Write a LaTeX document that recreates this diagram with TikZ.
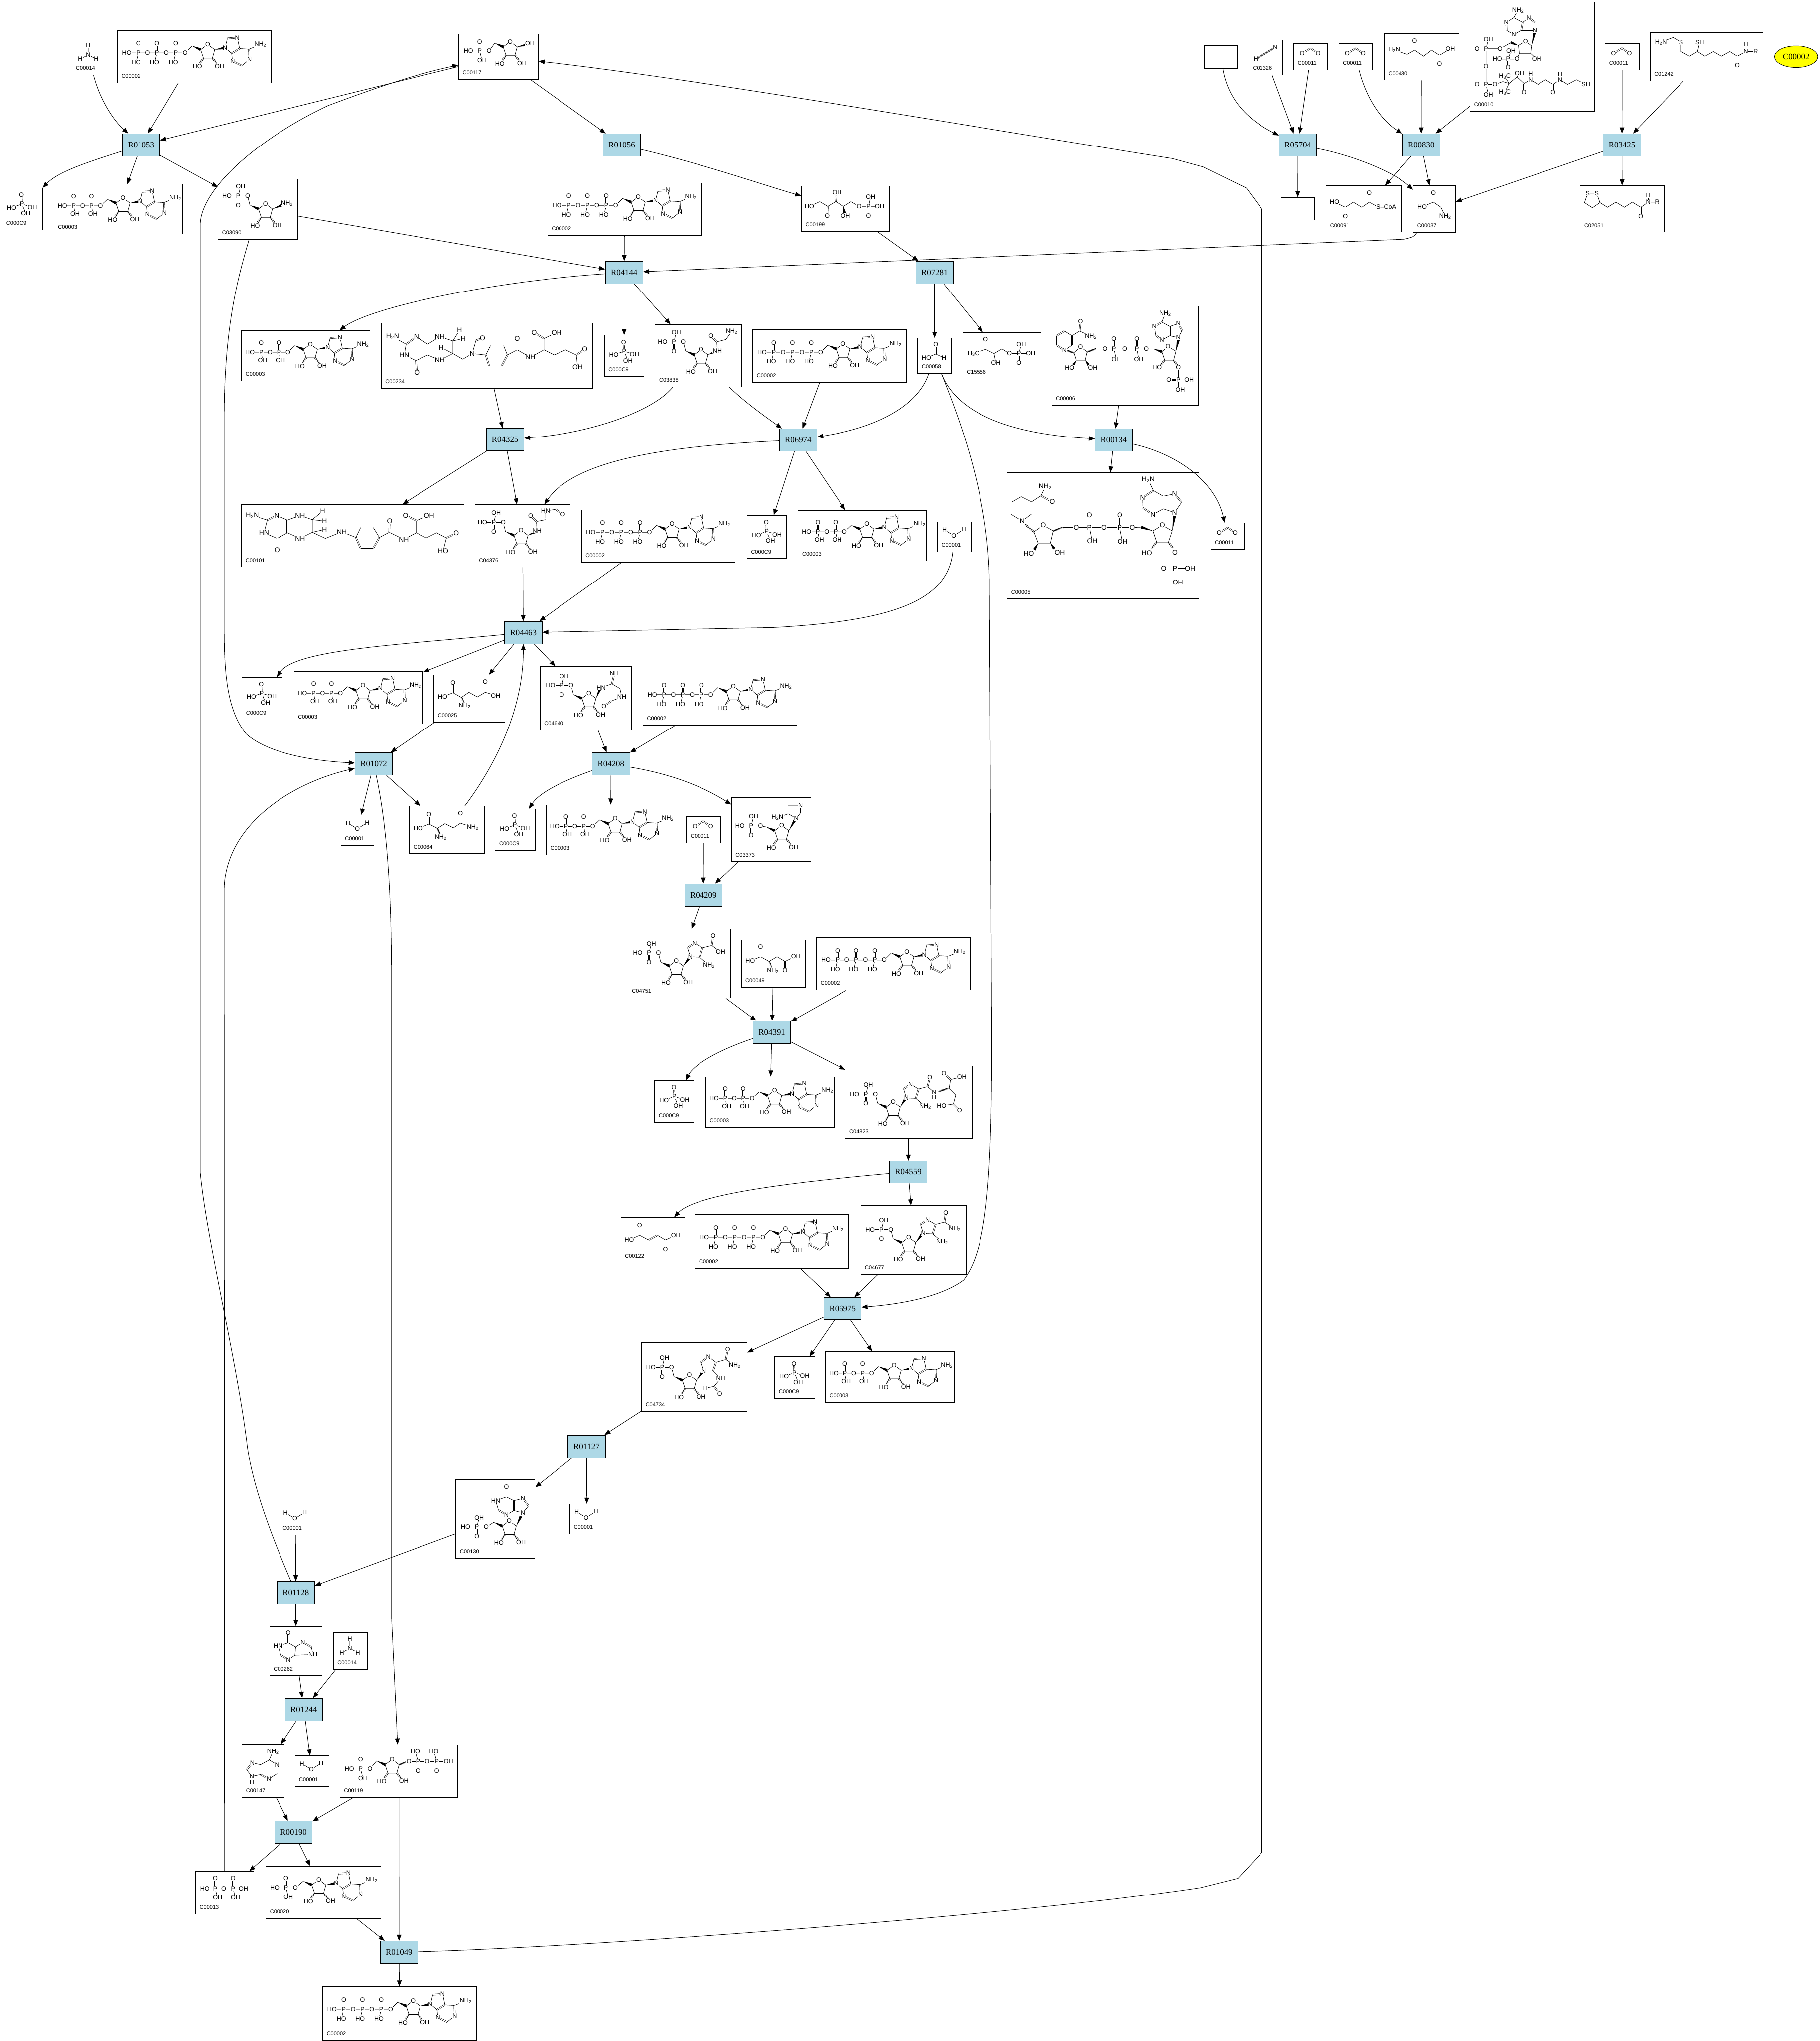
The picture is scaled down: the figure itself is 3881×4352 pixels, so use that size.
\documentclass[tikz,border=0pt]{standalone}
\usepackage{fontspec}
\usepackage{xcolor}
\usepackage{tikz}
\usetikzlibrary{arrows.meta,fit,calc,shapes.geometric}
\setmainfont{Liberation Sans}
\newfontfamily\rfont{Liberation Serif}
\definecolor{ReactBlue}{HTML}{ADD8E6}
\definecolor{PoolYellow}{HTML}{FFFF00}
\newcommand{\atomfont}{\fontsize{11.4}{12}\selectfont}
\newcommand{\atombig}{\fontsize{12.6}{13}\selectfont}
\newcommand{\nhtwo}{NH\textsubscript{2}}
\newcommand{\htwon}{H\textsubscript{2}N}
\newcommand{\hthreec}{H\textsubscript{3}C}
\newcommand{\atm}[2]{\node[atom] at (#1) {#2};}
\newcommand{\wdg}[2]{\fill (#1) -- ($(#2)!2.6pt!90:(#1)$) -- ($(#2)!2.6pt!-90:(#1)$) -- cycle;}

% sugar ring, origin at the CH2 carbon
\newcommand{\ribose}[2]{\begin{scope}[shift={(#1,#2)}]
  \wdg{0,0}{18,8}
  \draw (18,8)--(33,-3)--(48,8)--(43,26)--(24,26)--cycle;
  \draw[hash] (24,26)--(16,37); \draw[hash] (43,26)--(52,37);
  \atm{33,-3}{O}\atm{11,44}{HO}\atm{58,43}{OH}
\end{scope}}
% phosphates, origin at the ester oxygen
\newcommand{\phosgrp}[2]{\begin{scope}[shift={(#1,#2)}]
  \draw (0,0)--(-44,0); \draw (-20,0)--(-15,-20); \draw[dbl] (-20,0)--(-20,20);
  \atm{0,0}{O}\atm{-20,0}{P}\atm{-15,-20}{OH}\atm{-44,0}{HO}\atm{-20,20}{O}
\end{scope}}
\newcommand{\phosinv}[2]{\begin{scope}[shift={(#1,#2)}]
  \draw (0,0)--(-44,0); \draw (-20,0)--(-15,20); \draw[dbl] (-20,0)--(-20,-20);
  \atm{0,0}{O}\atm{-20,0}{P}\atm{-15,20}{OH}\atm{-44,0}{HO}\atm{-20,-20}{O}
\end{scope}}
\newcommand{\fivep}[2]{\begin{scope}[shift={(#1,#2)}]
  \draw (-5,-19.5)--(0,0);
  \ribose{0}{0}\phosgrp{-5}{-19.5}
\end{scope}}
% adenosine, origin at the CH2 carbon
\newcommand{\adeno}[2]{\ribose{#1}{#2}\begin{scope}[shift={(#1,#2)}]
  \wdg{48,8}{70,4}
  \draw (70,4)--(75,-16); \draw[dbl] (75,-16)--(96,-17.5); \draw (96,-17.5)--(101,5.6);
  \draw[dbl] (101,5.6)--(84,16); \draw (84,16)--(70,4); \draw (101,5.6)--(121,7)--(145,-3);
  \draw[dbl] (121,7)--(122,29); \draw (122,29)--(105.6,42); \draw[dbl] (105.6,42)--(86,32.5); \draw (86,32.5)--(84,16);
  \atm{70,4}{N}\atm{96,-17.5}{N}\atm{145,-3}{\nhtwo}\atm{122,29}{N}\atm{86,32.5}{N}
\end{scope}}

\newcommand{\molATP}{
  \draw (20,48)--(145,48)--(160,33);
  \foreach \px in {45,85,125}{\draw[dbl] (\px,48)--(\px,28); \draw (\px,48)--(\px-5,68);}
  \atm{20,48}{HO}
  \foreach \px in {45,85,125}{\atm{\px,28}{O}\atm{\px,48}{P}\atm{\px-5,68}{HO}\atm{\px+20,48}{O}}
  \adeno{160}{33}}
\newcommand{\molADP}{
  \draw (18,46)--(99,46)--(114,32);
  \foreach \px in {42,80}{\draw[dbl] (\px,46)--(\px,26); \draw (\px,46)--(\px+3,63);}
  \atm{18,46}{HO}
  \foreach \px in {42,80}{\atm{\px,26}{O}\atm{\px,46}{P}\atm{\px+3,63}{OH}\atm{\px+19,46}{O}}
  \adeno{114}{32}}
\newcommand{\molAMP}{\draw (63,46)--(80,32); \phosinv{63}{46}\adeno{80}{32}}
\newcommand{\molPi}{
  \draw[dbl] (42,34)--(41,15); \draw (20,42)--(42,34)--(64,41); \draw (42,34)--(50,54);
  \atm{41,15}{O}\atm{42,34}{P}\atm{20,42}{HO}\atm{64,41}{OH}\atm{50,54}{OH}}
\newcommand{\molNH}{
  \draw (35,14)--(35,34)--(18,43); \draw (35,34)--(52,43);
  \atm{35,14}{H}\atm{35,34}{N}\atm{18,43}{H}\atm{52,43}{H}}
\newcommand{\molWater}{\draw (15,17)--(35,29)--(56,16); \atm{15,17}{H}\atm{35,29}{O}\atm{56,16}{H}}
\newcommand{\molCOtwo}{\draw[dbl] (18,21)--(36,10); \draw[dbl] (36,10)--(52,21); \atm{18,21}{O}\atm{52,21}{O}}
\newcommand{\molHCN}{\draw[dbl] (15,41)--(57,16); \draw[line width=.4pt] (20,38)--(52,19); \atm{15,41}{H}\atm{57,16}{N}}
\newcommand{\molRfive}{
  \draw (65,36)--(77,19); \ribose{77}{19}\phosinv{65}{36}
  \wdg{125,27}{147,22}\atm{152,20}{OH}}
\newcommand{\molPRA}{\fivep{68}{55.5}\wdg{116,63.5}{140,54}\atm{147,52}{\nhtwo}}
\newcommand{\molGAR}{\fivep{65}{56.5}
  \wdg{113,64.5}{130,57}
  \draw (133,56)--(131.6,37)--(151,32)--(163.4,15); \draw[dbl] (131.6,37)--(119.4,24);
  \atm{133,56}{NH}\atm{119.4,24}{O}\atm{163.4,15}{\nhtwo}}
\newcommand{\molFGAR}{\fivep{65}{57.5}
  \wdg{113,65.5}{128,58}
  \draw (132,56)--(131,36)--(151,32)--(150.4,13.4)--(172,10); \draw[dbl] (131,36)--(118.6,24); \draw[dbl] (172,10)--(187,21);
  \atm{132,56}{NH}\atm{118.6,24}{O}\atm{150.4,13.4}{HN}\atm{187,21}{O}}
\newcommand{\molFGAM}{\fivep{71}{60}
  \wdg{119,68}{128,47}
  \draw (130,45)--(153,37)--(170,47)--(174,65)--(151,74); \draw[dbl] (153,37)--(158,15); \draw[dbl] (151,74)--(136,85);
  \atm{130,45}{HN}\atm{158,15}{NH}\atm{174,65}{NH}\atm{136,85}{O}}
\newcommand{\molAIR}{
  \draw (62,60)--(74,62); \ribose{74}{62}\phosgrp{62}{60}
  \wdg{122,70}{136,46}
  \draw (138,44)--(121,34); \draw[dbl] (121,34)--(121,17); \draw (121,17)--(147,17)--(147,32)--(138,44); \draw (121,34)--(98,42);
  \atm{98,42}{\htwon}\atm{147,16}{N}\atm{138,44}{N}}
\newcommand{\imidring}{
  \draw (133,59)--(127,40); \draw[dbl] (127,40)--(142,30); \draw (142,30)--(159,40); \draw[dbl] (159,40)--(153,60); \draw (153,60)--(133,59);
  \draw (153,60)--(173,77);}
\newcommand{\molCAIR}{\fivep{70}{70.5}
  \wdg{118,78.5}{131,61} \imidring
  \draw (159,40)--(179,35)--(198,49); \draw[dbl] (179,35)--(182,15);
  \atm{133,59}{N}\atm{142,30}{N}\atm{173,77}{\nhtwo}\atm{182,15}{O}\atm{198,49}{OH}}
\newcommand{\molSAICAR}{\fivep{69}{79.5}
  \begin{scope}[shift={(-3,9)}]\wdg{120,78}{131,61} \imidring\end{scope}
  \draw (156,49)--(175,44)--(189,56); \draw[dbl] (175,44)--(180,24);
  \draw[hash] (197,54)--(221,48);
  \draw (221,48)--(224,29)--(248,23); \draw[dbl] (224,29)--(210,16);
  \draw (221,48)--(235,62)--(230,81)--(205,85); \draw[dbl] (230,81)--(243,94);
  \atm{130,68}{N}\atm{139,39}{N}\atm{170,86}{\nhtwo}\atm{180,24}{O}\atm{189,56}{N}\atm{189,67}{H}
  \atm{210,16}{O}\atm{248,23}{OH}\atm{205,85}{HO}\atm{243,94}{O}}
\newcommand{\molAICAR}{\fivep{69}{70.5}
  \wdg{117,78.5}{130,61} \imidring
  \draw (159,40)--(178,35)--(200,49); \draw[dbl] (178,35)--(181,15);
  \atm{133,59}{N}\atm{142,30}{N}\atm{173,77}{\nhtwo}\atm{181,15}{O}\atm{200,49}{\nhtwo}}
\newcommand{\molFAICAR}{\fivep{69}{72}
  \wdg{117,80}{131,62}
  \draw (133,60)--(127,42); \draw[dbl] (127,42)--(143,30); \draw (143,30)--(159,42); \draw[dbl] (159,42)--(153,60); \draw (153,60)--(133,60);
  \draw (153,60)--(169,76)--(155,93)--(137,97); \draw[dbl] (155,93)--(167,109);
  \draw (159,42)--(180,36)--(199,48); \draw[dbl] (180,36)--(184,14);
  \atm{133,60}{N}\atm{143,30}{N}\atm{169,76}{NH}\atm{137,97}{H}\atm{167,109}{O}\atm{184,14}{O}\atm{199,48}{\nhtwo}}
\newcommand{\molIMP}{
  \draw (65,101)--(81,91); \ribose{81}{91}\phosgrp{65}{101}
  \wdg{129,99}{139,78}
  \draw (143,71)--(155,56); \draw[dbl] (155,56)--(143,40); \draw (143,40)--(124,45); \draw[dbl] (124,45)--(124,66); \draw (124,66)--(143,71);
  \draw (124,66)--(108,75); \draw[dbl] (108,75)--(91,65); \draw (91,65)--(85,45)--(108,37)--(124,45); \draw[dbl] (108,37)--(108,16);
  \atm{143,71}{N}\atm{143,40}{N}\atm{108,75}{N}\atm{85,45}{HN}\atm{108,16}{O}}
\newcommand{\molHX}{
  \draw (18,42)--(40,35)--(55.5,44)--(71,34); \draw[dbl] (40,35)--(40,14);
  \draw (18,42)--(24,61.5); \draw[dbl] (24,61.5)--(40,71); \draw (40,71)--(54,61.5)--(92.5,60)--(89,44);
  \draw (55.5,44)--(54,61.5); \draw[dbl] (71,34)--(89,44);
  \atm{40,14}{O}\atm{18,42}{HN}\atm{40,71}{N}\atm{71,34}{N}\atm{92.5,60}{NH}}
\newcommand{\molAde}{
  \draw (66,16)--(58,34); \draw (58,34)--(75,44); \draw[dbl] (75,44)--(75,63); \draw (75,63)--(57,74.5);
  \draw[dbl] (57,74.5)--(39.5,65); \draw[dbl] (39.5,65)--(39.5,44); \draw (39.5,44)--(58,34); \draw (39.5,44)--(22,40);
  \draw[dbl] (22,40)--(10,55); \draw (10,55)--(21,69)--(39.5,65); \draw (21,69)--(21,82);
  \atm{66,16}{\nhtwo}\atm{75,44}{N}\atm{57,74.5}{N}\atm{22,40}{N}\atm{21,69}{N}\atm{21,82}{H}}
\newcommand{\molPRPP}{
  \draw (64,52)--(78,35); \ribose{78}{35}\phosinv{64}{52}
  \draw[hash] (126,43)--(140,38);
  \draw (147,36)--(231.5,36);
  \foreach \px in {166.5,206.5}{\draw[dbl] (\px,36)--(\px,56); \draw (\px,36)--(\px-6,15);}
  \atm{147,36}{O}\atm{186,36}{O}\atm{231.5,36}{OH}
  \foreach \px in {166.5,206.5}{\atm{\px,36}{P}\atm{\px,56}{O}\atm{\px-6,15}{HO}}}
\newcommand{\molPPi}{
  \draw (20,37)--(102,37);
  \foreach \px in {42,80}{\draw[dbl] (\px,37)--(\px,15); \draw (\px,37)--(\px+5,56);}
  \atm{20,37}{HO}\atm{60,37}{O}\atm{102,37}{OH}
  \foreach \px in {42,80}{\atm{\px,15}{O}\atm{\px,37}{P}\atm{\px+5,56}{OH}}}
\newcommand{\molRu}{
  \draw (17,43)--(39,33)--(56,43)--(73,33)--(90,43)--(106,33)--(123.5,43)--(167,43);
  \draw[dbl] (56,43)--(55,63); \draw[hash] (73,33)--(75,18); \wdg{90,43}{93,58};
  \draw (143.5,43)--(148,23); \draw[dbl] (143.5,43)--(143.5,63);
  \atm{17,43}{HO}\atm{55,63}{O}\atm{76,13}{OH}\atm{94,63}{OH}\atm{123.5,43}{O}\atm{143.5,43}{P}\atm{148,23}{OH}\atm{167,43}{OH}\atm{143.5,63}{O}}
\newcommand{\molFormate}{
  \draw[dbl] (38.6,13)--(38.6,34); \draw (18.6,42)--(38.6,34)--(56,42);
  \atm{38.6,13}{O}\atm{18.6,42}{HO}\atm{56,42}{H}}
\newcommand{\molDBP}{
  \draw (23,45)--(49,36)--(67,45)--(84,35)--(100,45)--(145,45);
  \draw[dbl] (49,36)--(49,15); \draw (67,45)--(71,65); \draw (120,45)--(125,25); \draw[dbl] (120,45)--(120,65);
  \atm{49,15}{O}\atm{23,45}{\hthreec}\atm{71,65}{OH}\atm{100,45}{O}\atm{120,45}{P}\atm{125,25}{OH}\atm{145,45}{OH}\atm{120,65}{O}}
\newcommand{\molNADP}{
  \draw[dbl] (27,53)--(10,63); \draw (10,63)--(10,83); \draw[dbl] (10,83)--(27,94); \draw (27,94)--(43,83); \draw[dbl] (43,83)--(43,63); \draw (43,63)--(27,53);
  \draw (43,63)--(59,53)--(83,64); \draw[dbl] (59,53)--(61,33);
  \draw[hash] (47,99)--(33,95);
  \draw (47,99)--(61,87)--(75,97)--(71,115)--(52,115)--cycle;
  \wdg{52,115}{46,125}\wdg{71,115}{78,125}
  \draw[hash] (75,97)--(95,91);
  \draw (95,91)--(202,91); \draw[dbl] (132,91)--(132,70); \draw (132,91)--(137,113); \draw[dbl] (182,91)--(182,70); \draw (182,91)--(186,113);
  \wdg{217,91}{235,97}\draw (202,91)--(217,91);
  \draw (235,97)--(248,86)--(265,96)--(260,115)--(241,115)--cycle;
  \draw[hash] (241,115)--(232,126); \draw[hash] (260,115)--(268,126);
  \draw (270,130)--(270,178); \draw[dbl] (270,157)--(250,157); \draw (270,157)--(293,157);
  \wdg{265,96}{270,72}
  \draw (270,67)--(278,52); \draw[dbl] (278,52)--(270,37); \draw (270,37)--(252,43); \draw[dbl] (252,43)--(252,63); \draw (252,63)--(270,67);
  \draw (252,63)--(235,72); \draw[dbl] (235,72)--(222,62); \draw (222,62)--(219,43); \draw[dbl] (219,43)--(235,34); \draw (235,34)--(252,43); \draw (235,34)--(242,16);
  \atm{61,33}{O}\atm{83,64}{\nhtwo}\atm{27,94}{N}\atm{61,87}{O}\atm{38,131}{HO}\atm{87,131}{OH}
  \atm{113,91}{O}\atm{132,91}{P}\atm{132,70}{O}\atm{137,113}{OH}\atm{156,91}{O}\atm{182,91}{P}\atm{182,70}{O}\atm{186,113}{OH}\atm{202,91}{O}
  \atm{248,86}{O}\atm{225,130}{HO}\atm{270,130}{O}\atm{270,157}{P}\atm{250,157}{O}\atm{293,157}{OH}\atm{274,178}{OH}
  \atm{270,67}{N}\atm{270,37}{N}\atm{235,72}{N}\atm{219,43}{N}\atm{242,16}{\nhtwo}}
\newcommand{\molNADPH}{\tikzset{atom/.append style={font=\atombig}}
  \draw (30,51)--(9,63); \draw[dbl] (9,63)--(9,89); \draw (9,89)--(32,103)--(52,88); \draw[dbl] (52,88)--(52,62); \draw (52,62)--(30,51);
  \draw (52,62)--(72,49)--(81,30); \draw[dbl] (72,49)--(96,62);
  \draw[hash] (57,126)--(38,110);
  \draw (57,126)--(77,112)--(98,124)--(92,150)--(66,150)--cycle;
  \wdg{66,150}{58,164}\wdg{92,150}{100,162}
  \draw[hash] (98,124)--(119,117);
  \draw (119,117)--(267,117); \draw[dbl] (175,117)--(175,90); \draw (175,117)--(181,146); \draw[dbl] (240,117)--(240,90); \draw (240,117)--(246,147);
  \wdg{311,124}{286,116}\draw (267,117)--(286,116);
  \draw (311,124)--(331,112)--(352,124)--(344,148)--(319,148)--cycle;
  \draw[hash] (319,148)--(308,161); \draw[hash] (344,148)--(354,161);
  \draw (358,170)--(358,234); \draw[dbl] (358,204)--(334,204); \draw (358,204)--(390,204);
  \wdg{352,124}{357,92}
  \draw (357,85)--(372,63); \draw[dbl] (372,63)--(357,45); \draw (357,45)--(333,50); \draw[dbl] (333,50)--(333,77); \draw (333,77)--(357,85);
  \draw (333,77)--(311,89); \draw[dbl] (311,89)--(290,75); \draw (290,75)--(289,53); \draw[dbl] (289,53)--(312,38); \draw (312,38)--(333,50); \draw (312,38)--(301,15);
  \atm{81,30}{\nhtwo}\atm{96,62}{O}\atm{32,103}{N}\atm{77,112}{O}\atm{46,172}{HO}\atm{112,170}{OH}
  \atm{147,117}{O}\atm{175,117}{P}\atm{175,90}{O}\atm{181,146}{OH}\atm{206,117}{O}\atm{240,117}{P}\atm{240,90}{O}\atm{246,147}{OH}\atm{267,117}{O}
  \atm{331,112}{O}\atm{298,171}{HO}\atm{358,170}{O}\atm{358,204}{P}\atm{334,204}{O}\atm{390,204}{OH}\atm{364,234}{OH}
  \atm{357,85}{N}\atm{357,45}{N}\atm{311,89}{N}\atm{289,53}{N}\atm{301,15}{\htwon}}
\newcommand{\molThf}{\tikzset{atom/.append style={font=\atombig}}
  \draw (23,23)--(55,33); \draw[dbl] (55,33)--(75,23); \draw (75,23)--(98,33); \draw[dbl] (98,33)--(98,60); \draw (98,60)--(76,72)--(48,60)--(55,33); \draw[dbl] (76,72)--(76,97);
  \draw (98,33)--(125,23)--(151,32)--(151,59)--(125,72)--(98,60);
  \draw (173,14)--(151,32)--(177,35); \draw (177,53)--(151,59)--(179,72)--(214,58)--(244,70);
  \draw[dbl] (254,49)--(281,49); \draw (281,49)--(294,70); \draw[dbl] (294,70)--(281,93); \draw (281,93)--(254,93); \draw[dbl] (254,93)--(244,70); \draw (244,70)--(254,49);
  \draw (294,70)--(315,59)--(346,74)--(373,60)--(373,34)--(400,23); \draw[dbl] (315,59)--(316,35); \draw[dbl] (373,34)--(350,23);
  \draw (373,60)--(394,71)--(416,60)--(437,71)--(430,99); \draw[dbl] (437,71)--(458,61);
  \atm{23,23}{\htwon}\atm{75,23}{N}\atm{48,60}{HN}\atm{76,97}{O}\atm{125,23}{NH}\atm{125,72}{NH}\atm{173,14}{H}\atm{177,35}{H}\atm{177,53}{H}\atm{214,58}{NH}
  \atm{316,35}{O}\atm{346,74}{NH}\atm{350,23}{O}\atm{400,23}{OH}\atm{458,61}{O}\atm{430,99}{HO}}
\newcommand{\molFthf}{\tikzset{atom/.append style={font=\atombig}}
  \draw (24,29)--(53,45); \draw[dbl] (53,45)--(75,29); \draw (75,29)--(99,45); \draw[dbl] (99,45)--(99,68); \draw (99,68)--(74,80)--(49,68)--(53,45); \draw[dbl] (74,80)--(76,105);
  \draw (99,45)--(125,29)--(153,38)--(153,65)--(125,79)--(99,68);
  \draw (167,15)--(153,38)--(175,33); \draw (128,52)--(153,65)--(174,77)--(194,65)--(223,68); \draw (194,65)--(202,37); \draw[dbl] (202,37)--(216,32);
  \draw[dbl] (233,48)--(261,48); \draw (261,48)--(269,68); \draw[dbl] (269,68)--(257,91); \draw (257,91)--(230,91); \draw[dbl] (230,91)--(223,68); \draw (223,68)--(233,48);
  \draw (269,68)--(290,57)--(318,73)--(347,57)--(347,33)--(374,20); \draw[dbl] (290,57)--(290,33); \draw[dbl] (347,33)--(326,20);
  \draw (347,57)--(369,68)--(393,57)--(416,68)--(419,94); \draw[dbl] (416,68)--(434,56);
  \atm{24,29}{\htwon}\atm{75,29}{N}\atm{49,68}{HN}\atm{76,105}{O}\atm{125,29}{NH}\atm{125,79}{NH}\atm{167,15}{H}\atm{175,33}{H}\atm{128,52}{H}\atm{194,65}{N}\atm{216,32}{O}
  \atm{290,33}{O}\atm{318,73}{NH}\atm{326,20}{O}\atm{374,20}{OH}\atm{434,56}{O}\atm{419,94}{OH}}
\newcommand{\molGlu}{
  \draw (19,47)--(41,38)--(59,48)--(75,37)--(93,47)--(110,37)--(132,44); \draw[dbl] (41,38)--(41,17); \draw[dbl] (110,37)--(110,15); \draw[hash] (59,48)--(64,60);
  \atm{19,47}{HO}\atm{41,17}{O}\atm{66,66}{\nhtwo}\atm{110,15}{O}\atm{132,44}{OH}}
\newcommand{\molGln}{
  \draw (19,47)--(42,38)--(60,47)--(76,37)--(94,46)--(109,36)--(135,45); \draw[dbl] (42,38)--(42,17); \draw[dbl] (109,36)--(109,15); \draw[hash] (60,47)--(65,60);
  \atm{19,47}{HO}\atm{42,17}{O}\atm{67,66}{\nhtwo}\atm{109,15}{O}\atm{135,45}{\nhtwo}}
\newcommand{\molAsp}{
  \draw (19,45)--(41,36)--(59,46)--(76,36)--(93,46)--(116,35); \draw[dbl] (41,36)--(41,15); \draw[dbl] (93,46)--(93,65); \draw[hash] (59,46)--(64,60);
  \atm{19,45}{HO}\atm{41,15}{O}\atm{67,66}{\nhtwo}\atm{116,35}{OH}\atm{93,65}{O}}
\newcommand{\molFum}{
  \draw (18,48)--(40,38)--(59,48); \draw[dbl] (59,48)--(78,38); \draw (78,38)--(95,48)--(117,38); \draw[dbl] (40,38)--(40,17); \draw[dbl] (95,48)--(95,68);
  \atm{18,48}{HO}\atm{40,17}{O}\atm{117,38}{OH}\atm{95,68}{O}}
\newcommand{\molAla}{
  \draw (21,34)--(49,44)--(65,35)--(84,48)--(101,35)--(118,46)--(141,32); \draw[dbl] (65,35)--(65,15); \draw[dbl] (118,46)--(118,64);
  \atm{21,34}{\htwon}\atm{65,15}{O}\atm{141,32}{OH}\atm{118,64}{O}}
\newcommand{\molCoA}{
  \draw (102,17)--(93,33); \draw (93,33)--(77,43); \draw[dbl] (77,43)--(78,60); \draw (78,60)--(93,69); \draw (93,69)--(109,60); \draw[dbl] (109,60)--(112,43); \draw (112,43)--(93,33);
  \draw (112,43)--(125,33); \draw[dbl] (125,33)--(138,43); \draw (138,43)--(138,60)--(109,60);
  \wdg{131,93}{138,62}
  \draw (131,93)--(118,83)--(103,92)--(105,109)--(129,109)--cycle; \wdg{103,92}{87,86}
  \draw (129,109)--(142,121); \draw (105,109)--(100,121)--(58,121); \draw (81,121)--(87,104); \draw[dbl] (81,121)--(81,139);
  \draw (87,86)--(64,99)--(34,99)--(34,175)--(53,175); \draw (34,99)--(39,79); \draw[dbl] (34,99)--(15,99); \draw[dbl] (34,175)--(15,175); \draw (34,175)--(39,197);
  \draw (53,175)--(70,169)--(83,173)--(100,159)--(115,173)--(129,165)--(145,175)--(161,165)--(177,175)--(192,165)--(208,175)--(227,165)--(247,175);
  \draw (74,158)--(83,173)--(74,192); \draw (100,159)--(105,151); \draw[dbl] (115,173)--(115,192); \draw[dbl] (177,175)--(177,192);
  \atm{102,17}{\nhtwo}\atm{77,43}{N}\atm{93,69}{N}\atm{125,33}{N}\atm{138,60}{N}\atm{118,83}{O}\atm{142,121}{OH}\atm{100,121}{O}\atm{81,121}{P}\atm{87,104}{OH}\atm{58,121}{HO}\atm{81,139}{O}
  \atm{64,99}{O}\atm{34,99}{P}\atm{39,79}{OH}\atm{15,99}{O}\atm{34,137}{O}\atm{34,175}{P}\atm{15,175}{O}\atm{39,197}{OH}\atm{53,175}{O}
  \atm{74,158}{\hthreec}\atm{74,192}{\hthreec}\atm{105,151}{OH}\atm{115,192}{O}\atm{129,165}{N}\atm{129,152}{H}\atm{177,192}{O}\atm{192,165}{N}\atm{192,153}{H}\atm{247,175}{SH}}
\newcommand{\molDhl}{
  \draw (23,20)--(49,10)--(66,20)--(66,40)--(84,50)--(101,40)--(117,50)--(135,40)--(152,50)--(170,40)--(186,50)--(204,40)--(225,40);
  \draw (101,40)--(106,20); \draw[dbl] (186,50)--(186,69); \draw (204,40)--(204,25);
  \atm{23,20}{\htwon}\atm{66,20}{S}\atm{106,20}{SH}\atm{186,69}{O}\atm{204,40}{N}\atm{204,25}{H}\atm{225,40}{R}}
\newcommand{\molSuc}{
  \draw (18,35)--(41,46)--(58,35)--(76,46)--(92,35)--(110,45)--(129,45); \draw[dbl] (41,46)--(41,65); \draw[dbl] (92,35)--(92,15);
  \atm{18,35}{HO}\atm{41,65}{O}\atm{92,15}{O}\atm{128,45}{S--CoA}}
\newcommand{\molGly}{
  \draw[dbl] (43,15)--(43,35); \draw (19,45)--(43,35)--(59,46)--(68,65);
  \atm{43,15}{O}\atm{19,45}{HO}\atm{68,65}{\nhtwo}}
\newcommand{\molLip}{
  \draw (16,16)--(35,16)--(42,36)--(26,47)--(9,36)--(16,16);
  \draw (42,36)--(58,46)--(76,35)--(94,46)--(111,35)--(129,46)--(145,35)--(164,35); \draw[dbl] (129,46)--(129,65); \draw (145,35)--(145,21);
  \atm{16,16}{S}\atm{35,16}{S}\atm{129,65}{O}\atm{145,35}{N}\atm{145,21}{H}\atm{164,35}{R}}

% box with molecule and id in the lower left corner
\newcommand{\cpd}[7]{
  \node[cpd, fit={(#2,#3) (#4,#5)}] (#1) {};
  \begin{scope}[shift={(#2,#3)}, line width=.8pt]#6\end{scope}
  \node[cpdlabel] (#1-lab) at ([xshift=2.7mm,yshift=4.5mm]#1.south west) {#7};
}

\tikzset{
  atom/.style={font=\atomfont, fill=white, inner sep=.4pt},
  dbl/.style={double, double distance=1.5pt, line width=.65pt},
  hash/.style={line width=3.2pt, dash pattern=on .8pt off 1.2pt}
}

\begin{document}
\begin{tikzpicture}[
    x=0.3mm, y=-0.3mm,
    reaction/.style={rectangle, draw, line width=.85pt, fill=ReactBlue, minimum width=24mm, minimum height=14.4mm, inner sep=0pt, font=\rfont\fontsize{15.3}{17}\selectfont},
    pool/.style={ellipse, draw, line width=.85pt, fill=PoolYellow, minimum width=27.6mm, minimum height=13.8mm, inner sep=0pt, font=\rfont\fontsize{15.3}{17}\selectfont},
    cpd/.style={rectangle, draw, line width=.85pt, inner sep=0pt},
    cpdlabel/.style={anchor=west, inner sep=0pt, font=\fontsize{10}{11}\selectfont},
    arrow/.style={-{Triangle[length=11pt,width=8.5pt]}, line width=.9pt}
]
\useasboundingbox (0,0) rectangle (3881,4352);

% reactions, top to bottom
\node[reaction] (R01053) at (301,309) {R01053};
\node[reaction] (R01056) at (1326,309) {R01056};
\node[reaction] (R05704) at (2768,309) {R05704};
\node[reaction] (R00830) at (3031,309) {R00830};
\node[reaction] (R03425) at (3459,309) {R03425};
\node[reaction] (R04144) at (1331,581) {R04144};
\node[reaction] (R07281) at (1993,581) {R07281};
\node[reaction] (R04325) at (1077,937) {R04325};
\node[reaction] (R06974) at (1702,938) {R06974};
\node[reaction] (R00134) at (2375,938) {R00134};
\node[reaction] (R04463) at (1116,1349) {R04463};
\node[reaction] (R01072) at (797,1629) {R01072};
\node[reaction] (R04208) at (1303,1629) {R04208};
\node[reaction] (R04209) at (1500,1909) {R04209};
\node[reaction] (R04391) at (1646,2201) {R04391};
\node[reaction] (R04559) at (1937,2499) {R04559};
\node[reaction] (R06975) at (1797,2790) {R06975};
\node[reaction] (R01127) at (1251,3084) {R01127};
\node[reaction] (R01128) at (631,3396) {R01128};
\node[reaction] (R01244) at (648,3645) {R01244};
\node[reaction] (R00190) at (626,3907) {R00190};
\node[reaction] (R01049) at (851,4163) {R01049};
\node[pool] (C00002pool) at (3830,121) {C00002};

% compounds
\cpd{atpa}{250}{65}{578}{177}{\molATP}{C00002}
\cpd{atpb}{1168}{390}{1496}{502}{\molATP}{C00002}
\cpd{atpc}{1240}{1087}{1568}{1199}{\molATP}{C00002}
\cpd{atpd}{1605}{703}{1933}{815}{\molATP}{C00002}
\cpd{atpe}{1371}{1433}{1699}{1546}{\molATP}{C00002}
\cpd{atpf}{1741}{1999}{2069}{2111}{\molATP}{C00002}
\cpd{atpg}{1482}{2590}{1810}{2704}{\molATP}{C00002}
\cpd{atph}{688}{4236}{1016}{4350}{\molATP}{C00002}
\cpd{adpa}{115}{393}{389}{499}{\molADP}{C00003}
\cpd{adpb}{515}{705}{789}{812}{\molADP}{C00003}
\cpd{adpc}{1702}{1088}{1976}{1196}{\molADP}{C00003}
\cpd{adpd}{627}{1432}{902}{1543}{\molADP}{C00003}
\cpd{adpe}{1165}{1716}{1439}{1823}{\molADP}{C00003}
\cpd{adpf}{1505}{2296}{1779}{2404}{\molADP}{C00003}
\cpd{adpg}{1760}{2882}{2035}{2990}{\molADP}{C00003}
\cpd{pia}{5}{401}{91}{490}{\molPi}{C000C9}
\cpd{pib}{1289}{715}{1373}{803}{\molPi}{C000C9}
\cpd{pic}{1593}{1099}{1677}{1191}{\molPi}{C000C9}
\cpd{pid}{516}{1444}{602}{1535}{\molPi}{C000C9}
\cpd{pie}{1056}{1725}{1142}{1813}{\molPi}{C000C9}
\cpd{pif}{1396}{2304}{1480}{2393}{\molPi}{C000C9}
\cpd{pig}{1652}{2893}{1738}{2982}{\molPi}{C000C9}
\cpd{wata}{1999}{1113}{2071}{1177}{\molWater}{C00001}
\cpd{watb}{727}{1738}{797}{1802}{\molWater}{C00001}
\cpd{watc}{594}{3209}{666}{3273}{\molWater}{C00001}
\cpd{watd}{1215}{3207}{1288}{3271}{\molWater}{C00001}
\cpd{wate}{629}{3744}{702}{3809}{\molWater}{C00001}
\cpd{coa}{2759}{93}{2831}{149}{\molCOtwo}{C00011}
\cpd{cob}{2855}{93}{2927}{149}{\molCOtwo}{C00011}
\cpd{coc}{3423}{93}{3496}{149}{\molCOtwo}{C00011}
\cpd{cod}{1464}{1741}{1537}{1797}{\molCOtwo}{C00011}
\cpd{coe}{2582}{1115}{2654}{1171}{\molCOtwo}{C00011}
\cpd{ammoa}{153}{83}{226}{160}{\molNH}{C00014}
\cpd{ammob}{711}{3481}{784}{3560}{\molNH}{C00014}
\cpd{rfive}{978}{73}{1148}{169}{\molRfive}{C00117}
\cpd{pra}{465}{382}{635}{510}{\molPRA}{C03090}
\cpd{gar}{1397}{692}{1582}{825}{\molGAR}{C03838}
\cpd{fgar}{1013}{1076}{1216}{1209}{\molFGAR}{C04376}
\cpd{fgam}{1152}{1421}{1347}{1557}{\molFGAM}{C04640}
\cpd{air}{1560}{1701}{1729}{1837}{\molAIR}{C03373}
\cpd{cair}{1339}{1981}{1558}{2128}{\molCAIR}{C04751}
\cpd{saicar}{1803}{2273}{2073}{2427}{\molSAICAR}{C04823}
\cpd{aicar}{1836}{2571}{2061}{2717}{\molAICAR}{C04677}
\cpd{faicar}{1368}{2863}{1593}{3009}{\molFAICAR}{C04734}
\cpd{imp}{972}{3155}{1141}{3323}{\molIMP}{C00130}
\cpd{hypo}{575}{3468}{687}{3573}{\molHX}{C00262}
\cpd{ade}{516}{3719}{606}{3833}{\molAde}{C00147}
\cpd{prpp}{725}{3720}{976}{3833}{\molPRPP}{C00119}
\cpd{amp}{567}{3979}{812}{4091}{\molAMP}{C00020}
\cpd{ppi}{417}{3990}{541}{4081}{\molPPi}{C00013}
\cpd{fthf}{813}{689}{1264}{828}{\molFthf}{C00234}
\cpd{thf}{515}{1076}{990}{1209}{\molThf}{C00101}
\cpd{nadp}{2243}{653}{2556}{864}{\molNADP}{C00006}
\cpd{nadph}{2148}{1008}{2557}{1277}{\molNADPH}{C00005}
\cpd{glu}{925}{1439}{1077}{1540}{\molGlu}{C00025}
\cpd{gln}{873}{1719}{1033}{1820}{\molGln}{C00064}
\cpd{asp}{1581}{2004}{1718}{2105}{\molAsp}{C00049}
\cpd{fum}{1324}{2596}{1460}{2693}{\molFum}{C00122}
\cpd{ru}{1709}{397}{1897}{493}{\molRu}{C00199}
\cpd{formate}{1957}{721}{2029}{796}{\molFormate}{C00058}
\cpd{dbp}{2053}{709}{2220}{808}{\molDBP}{C15556}
\cpd{hcn}{2663}{85}{2735}{160}{\molHCN}{C01326}
\cpd{ala}{2952}{72}{3111}{171}{\molAla}{C00430}
\cpd{scoa}{3135}{5}{3400}{237}{\molCoA}{C00010}
\cpd{dhl}{3519}{70}{3760}{173}{\molDhl}{C01242}
\cpd{succ}{2828}{396}{2989}{495}{\molSuc}{C00091}
\cpd{gly}{3014}{396}{3104}{496}{\molGly}{C00037}
\cpd{lip}{3370}{396}{3549}{495}{\molLip}{C02051}
\node[cpd, fit={(2568,97) (2639,146)}] (blanka) {};
\node[cpd, fit={(2732,421) (2803,469)}] (blankb) {};

% top left
\draw[arrow] (ammoa) .. controls (212,210) and (240,255) .. (R01053);
\draw[arrow] (atpa) -- (R01053);
\draw[arrow] (rfive) -- (R01053);
\draw[arrow] (rfive) -- (R01056);
\draw[arrow] (R01053) .. controls (190,345) and (125,365) .. (pia);
\draw[arrow] (R01053) -- (adpa);
\draw[arrow] (R01053) -- (pra);
\draw[arrow] (pra) -- (R04144);
\draw[arrow] (R01056) .. controls (1500,350) and (1620,392) .. (ru);
\draw[arrow] (ru) -- (R07281);
\draw[arrow] (atpb) -- (R04144);
\draw[arrow] (gly) .. controls (3015,505) .. (2995,510) -- (R04144);
\draw[arrow] (R04144) .. controls (1050,600) and (790,655) .. (adpb);
\draw[arrow] (R04144) -- (pib);
\draw[arrow] (R04144) -- (gar);
\draw[arrow] (R07281) -- (formate);
\draw[arrow] (R07281) -- (dbp);

% long returns along the left side
\draw[arrow] (pra) .. controls (505,600) and (478,700) .. (478,900) -- (478,1320) .. controls (478,1420) and (480,1510) .. (525,1565) .. controls (570,1605) and (660,1622) .. (R01072);
\draw[arrow] (ppi) -- (478,1900) .. controls (478,1760) and (620,1670) .. (R01072);
\draw[arrow] (R01128) .. controls (590,3300) and (540,3180) .. (527,3081) .. controls (505,2900) and (440,2640) .. (427,2500) -- (427,480) .. controls (427,400) and (560,290) .. (700,225) .. controls (820,180) and (900,155) .. (rfive);

% long return along the right side
\draw[arrow] (R01049) .. controls (1300,4150) and (2200,4080) .. (2560,4025) -- (2640,4005) -- (2691,3950) -- (2691,446) -- (2658,401) -- (2566,356) -- (2500,338) .. controls (2100,275) and (1500,170) .. (rfive);

% upper middle
\draw[arrow] (formate) .. controls (1960,860) and (1880,910) .. (R06974);
\draw[arrow] (formate) .. controls (2040,880) and (2110,1050) .. (2110,1250) -- (2115,2220) .. controls (2115,2550) and (2100,2670) .. (2055,2729) .. controls (2000,2770) and (1900,2782) .. (R06975);
\draw[arrow] (formate) .. controls (2040,880) and (2150,925) .. (R00134);
\draw[arrow] (nadp) -- (R00134);
\draw[arrow] (R00134) -- (nadph);
\draw[arrow] (R00134) .. controls (2500,965) and (2590,1020) .. (coe);
\draw[arrow] (fthf) -- (R04325);
\draw[arrow] (gar) .. controls (1390,880) and (1250,925) .. (R04325);
\draw[arrow] (gar) .. controls (1580,850) and (1620,880) .. (R06974);
\draw[arrow] (atpd) -- (R06974);
\draw[arrow] (R04325) -- (thf);
\draw[arrow] (R04325) -- (fgar);
\draw[arrow] (R06974) .. controls (1450,950) and (1230,975) .. (fgar);
\draw[arrow] (R06974) -- (pic);
\draw[arrow] (R06974) -- (adpc);

% middle
\draw[arrow] (fgar) -- (R04463);
\draw[arrow] (atpc) -- (R04463);
\draw[arrow] (wata) .. controls (2020,1290) and (1880,1325) .. (1650,1338) -- (R04463);
\draw[arrow] (R04463) .. controls (850,1375) and (630,1385) .. (pid);
\draw[arrow] (R04463) -- (adpd);
\draw[arrow] (R04463) -- (glu);
\draw[arrow] (R04463) -- (fgam);
\draw[arrow] (glu) -- (R01072);
\draw[arrow] (R01072) -- (watb);
\draw[arrow] (R01072) -- (gln);
\draw[arrow] (gln) .. controls (1050,1640) and (1116,1520) .. (R04463);
\draw[arrow] (R01072) .. controls (825,1760) and (835,1900) .. (835,2100) -- (835,3450) -- (prpp);
\draw[arrow] (fgam) -- (R04208);
\draw[arrow] (atpe) -- (R04208);
\draw[arrow] (R04208) .. controls (1200,1665) and (1150,1690) .. (pie);
\draw[arrow] (R04208) -- (adpe);
\draw[arrow] (R04208) .. controls (1400,1645) and (1480,1665) .. (air);
\draw[arrow] (cod) -- (R04209);
\draw[arrow] (air) -- (R04209);
\draw[arrow] (R04209) -- (cair);
\draw[arrow] (cair) -- (R04391);
\draw[arrow] (asp) -- (R04391);
\draw[arrow] (atpf) -- (R04391);
\draw[arrow] (R04391) .. controls (1530,2240) and (1480,2270) .. (pif);
\draw[arrow] (R04391) -- (adpf);
\draw[arrow] (R04391) -- (saicar);
\draw[arrow] (saicar) -- (R04559);
\draw[arrow] (R04559) .. controls (1650,2525) and (1480,2550) .. (fum);
\draw[arrow] (R04559) -- (aicar);
\draw[arrow] (atpg) -- (R06975);
\draw[arrow] (aicar) -- (R06975);
\draw[arrow] (R06975) -- (faicar);
\draw[arrow] (R06975) -- (pig);
\draw[arrow] (R06975) -- (adpg);

% bottom
\draw[arrow] (faicar) -- (R01127);
\draw[arrow] (R01127) -- (imp);
\draw[arrow] (R01127) -- (watd);
\draw[arrow] (imp) -- (R01128);
\draw[arrow] (watc) -- (R01128);
\draw[arrow] (R01128) -- (hypo);
\draw[arrow] (hypo) -- (R01244);
\draw[arrow] (ammob) -- (R01244);
\draw[arrow] (R01244) -- (ade);
\draw[arrow] (R01244) -- (wate);
\draw[arrow] (ade) -- (R00190);
\draw[arrow] (prpp) -- (R00190);
\draw[arrow] (R00190) -- (ppi);
\draw[arrow] (R00190) -- (amp);
\draw[arrow] (amp) -- (R01049);
\draw[arrow] (prpp) -- (R01049);
\draw[arrow] (R01049) -- (atph);

% top right
\draw[arrow] (blanka) .. controls (2620,220) and (2670,260) .. (R05704);
\draw[arrow] (hcn) -- (R05704);
\draw[arrow] (coa) -- (R05704);
\draw[arrow] (cob) .. controls (2915,215) and (2950,260) .. (R00830);
\draw[arrow] (ala) -- (R00830);
\draw[arrow] (scoa) -- (R00830);
\draw[arrow] (coc) -- (R03425);
\draw[arrow] (dhl) -- (R03425);
\draw[arrow] (R05704) -- (blankb);
\draw[arrow] (R05704) .. controls (2880,330) and (2970,365) .. (gly);
\draw[arrow] (R00830) -- (succ);
\draw[arrow] (R00830) -- (gly);
\draw[arrow] (R03425) -- (gly);
\draw[arrow] (R03425) -- (lip);

\end{tikzpicture}
\end{document}
